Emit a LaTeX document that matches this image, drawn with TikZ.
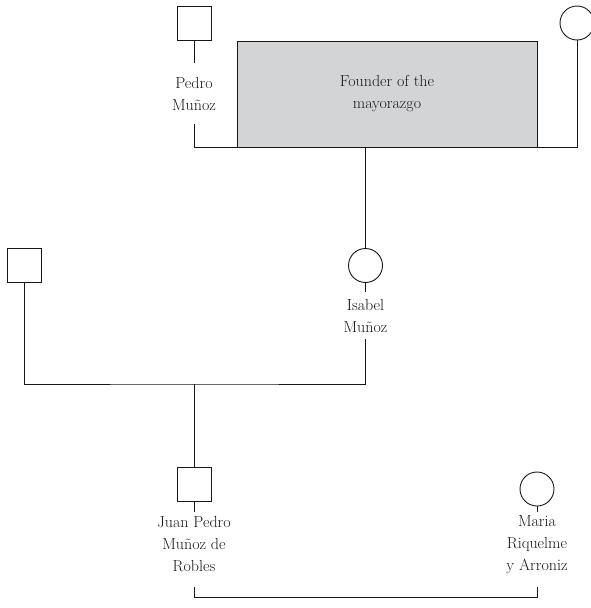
\documentclass[tikz,border=0pt]{standalone}
\definecolor{boxgray}{RGB}{211,212,214}
\definecolor{ink}{RGB}{25,22,23}
\begin{document}
\begin{tikzpicture}[x=1pt,y=-1pt, line width=0.9pt, draw=ink,
  male/.style={draw=ink, minimum size=34pt, inner sep=0pt, outer sep=0pt},
  female/.style={draw=ink, circle, minimum size=34pt, inner sep=0pt, outer sep=0pt},
  lbl/.style={align=center, text=ink, font=\fontsize{16}{22}\selectfont, inner xsep=0pt, inner ysep=#1, outer sep=0pt, anchor=north},
  lbl/.default=5pt,
  founderbox/.style={draw=ink, fill=boxgray, text=ink, align=center, font=\fontsize{16}{22}\selectfont, minimum width=300pt, minimum height=106pt, inner sep=0pt, outer sep=0pt}]
\useasboundingbox (0,0) rectangle (590,608);

% generation 1
\node[male] (pedro) at (194,23) {};
\node[lbl=13.9pt] (pedroL) at (194,63) {Pedro\\Muñoz};
\node[founderbox] (founder) at (387,94) {Founder of the\\mayorazgo};
\node[female] (wife) at (577,23) {};
\draw (pedro.south) -- (pedroL.north);
\draw (pedroL.south) |- (founder.south west);
\draw (founder.south east) -| (wife.south);

% generation 2
\node[female] (isabel) at (365.5,265.5) {};
\node[lbl=7pt] (isabelL) at (365.5,292) {Isabel\\Muñoz};
\node[male] (husband) at (24,265.5) {};
\draw (founder.south -| isabel) -- (isabel.north);
\draw (isabel.south) -- (isabelL.north);
\coordinate (m2) at (194,384);
\draw (husband.south) |- (m2) -| (isabelL.south);

% generation 3
\node[male] (juan) at (194,484) {};
\node[lbl=3.9pt] (juanL) at (194,512) {Juan Pedro\\Muñoz de\\Robles};
\node[female] (maria) at (537,489) {};
\node[lbl=3.9pt] (mariaL) at (537,512) {Maria\\Riquelme\\y Arroniz};
\draw (m2) -- (juan.north);
\draw (juan.south) -- (juanL.north);
\draw (maria.south) -- (mariaL.north);
\coordinate (bj) at (194,587);
\coordinate (bm) at (537,587);
\draw (bj) -- ++(0,10) -| (bm);
\end{tikzpicture}
\end{document}
